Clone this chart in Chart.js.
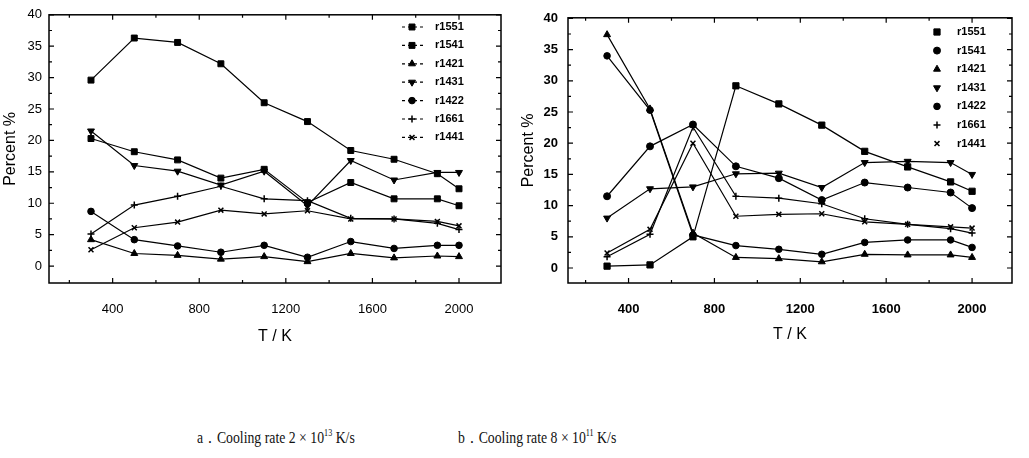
<!DOCTYPE html>
<html>
<head>
<meta charset="utf-8">
<script src="https://cdn.jsdelivr.net/npm/chart.js@4.4.1/dist/chart.umd.min.js"></script>
<style>
  body { margin: 0; background: #fff; width: 1029px; height: 458px; overflow: hidden; position: relative; }
  .box { position: absolute; top: 0; height: 362px; }
  #boxA { left: 0; width: 520px; }
  #boxB { left: 500px; width: 529px; }
  .cap {
    position: absolute; top: 426px; white-space: nowrap; color: #111;
    font-family: "Liberation Serif", "Times New Roman", serif; font-size: 17px;
    transform-origin: left center; transform: scaleX(0.81);
  }
  .cap sup { font-size: 10px; }
</style>
</head>
<body>
<div class="box" id="boxA"><canvas id="chartA"></canvas></div>
<div class="box" id="boxB"><canvas id="chartB"></canvas></div>
<div class="cap" style="left:197px">a．Cooling rate 2 × 10<sup>13</sup> K/s</div>
<div class="cap" style="left:458px">b．Cooling rate 8 × 10<sup>11</sup> K/s</div>

<script>
// temperatures (K) shared by both panels
const temps = [300, 500, 700, 900, 1100, 1300, 1500, 1700, 1900, 2000];
const seriesNames = ['r1551', 'r1541', 'r1421', 'r1431', 'r1422', 'r1661', 'r1441'];

// panel a: cooling rate 2e13 K/s
const a_r1551 = [29.6, 36.3, 35.6, 32.2, 26.0, 23.0, 18.4, 17.0, 14.7, 12.3];
const a_r1541 = [20.3, 18.2, 16.9, 14.0, 15.4, 10.1, 13.3, 10.7, 10.7, 9.6];
const a_r1421 = [4.2, 2.0, 1.7, 1.1, 1.5, 0.7, 2.0, 1.3, 1.6, 1.5];
const a_r1431 = [21.5, 16.0, 15.1, 12.9, 15.1, 9.6, 16.8, 13.7, 14.9, 14.9];
const a_r1422 = [8.7, 4.2, 3.2, 2.2, 3.3, 1.4, 3.9, 2.8, 3.3, 3.3];
const a_r1661 = [5.1, 9.7, 11.1, 12.7, 10.7, 10.4, 7.6, 7.5, 6.8, 5.8];
const a_r1441 = [2.6, 6.1, 7.0, 8.9, 8.3, 8.8, 7.5, 7.5, 7.1, 6.4];

// panel b: cooling rate 8e11 K/s
const b_r1551 = [0.3, 0.5, 5.0, 29.2, 26.3, 22.9, 18.7, 16.2, 13.8, 12.3];
const b_r1541 = [11.5, 19.5, 23.0, 16.3, 14.4, 10.9, 13.7, 12.9, 12.1, 9.6];
const b_r1421 = [37.4, 25.5, 5.6, 1.7, 1.5, 1.0, 2.2, 2.1, 2.1, 1.7];
const b_r1431 = [8.0, 12.7, 13.0, 15.1, 15.2, 12.9, 16.9, 17.1, 16.9, 15.0];
const b_r1422 = [34.0, 25.3, 5.3, 3.6, 3.0, 2.2, 4.1, 4.5, 4.5, 3.3];
const b_r1661 = [1.8, 5.4, 22.6, 11.5, 11.2, 10.3, 7.9, 7.0, 6.3, 5.6];
const b_r1441 = [2.4, 6.2, 20.0, 8.3, 8.6, 8.7, 7.4, 7.0, 6.6, 6.4];

const xTickValues = [200, 400, 600, 800, 1000, 1200, 1400, 1600, 1800, 2000];
const yTickValues = [0, 2.5, 5, 7.5, 10, 12.5, 15, 17.5, 20, 22.5, 25, 27.5, 30, 32.5, 35, 37.5, 40];

const SANS = '"Liberation Sans", Arial, sans-serif';

// marker look per series
const MARKS_A = [
  {style: 'rect', r: 4.2},
  {style: 'rect', r: 4.2},
  {style: 'triangle', r: 4},
  {style: 'triangle', r: 4, rot: 180},
  {style: 'circle', r: 3.3},
  {style: 'cross', r: 3.5},
  {style: 'crossRot', r: 3.5}
];
const MARKS_B = [
  {style: 'rect', r: 4.4},
  {style: 'circle', r: 3.5},
  {style: 'triangle', r: 4},
  {style: 'triangle', r: 4, rot: 180},
  {style: 'circle', r: 3.3},
  {style: 'cross', r: 3.5},
  {style: 'crossRot', r: 3.5}
];

// outer frame plus inward tick marks on all four sides
const frameTicks = {
  id: 'frameTicks',
  afterDatasetsDraw(chart) {
    const {ctx, chartArea: a, scales: {x, y}} = chart;
    ctx.save();
    ctx.strokeStyle = '#000';
    ctx.lineWidth = 1.5;
    ctx.strokeRect(a.left, a.top, a.right - a.left, a.bottom - a.top);
    ctx.lineWidth = 1.2;
    ctx.beginPath();
    x.ticks.forEach(t => {
      const px = x.getPixelForValue(t.value);
      const len = t.value % 400 === 0 ? 5 : 3;
      ctx.moveTo(px, a.bottom); ctx.lineTo(px, a.bottom - len);
      ctx.moveTo(px, a.top); ctx.lineTo(px, a.top + len);
    });
    y.ticks.forEach(t => {
      const py = y.getPixelForValue(t.value);
      const len = t.value % 5 === 0 ? 5 : 3;
      ctx.moveTo(a.left, py); ctx.lineTo(a.left + len, py);
      ctx.moveTo(a.right, py); ctx.lineTo(a.right - len, py);
    });
    ctx.stroke();
    ctx.restore();
  }
};

// legend drawn inside the plot box, top right
const boxLegend = {
  id: 'boxLegend',
  afterDraw(chart, args, opts) {
    const ctx = chart.ctx;
    ctx.save();
    ctx.font = opts.font;
    ctx.fillStyle = '#000';
    ctx.strokeStyle = '#000';
    ctx.textBaseline = 'middle';
    chart.data.datasets.forEach((ds, i) => {
      const cy = opts.top + i * opts.gap;
      if (opts.dash) {
        ctx.lineWidth = 1.2;
        ctx.setLineDash([3, 3]);
        ctx.beginPath();
        ctx.moveTo(opts.markX - 10, cy);
        ctx.lineTo(opts.markX + 12, cy);
        ctx.stroke();
        ctx.setLineDash([]);
      }
      ctx.lineWidth = ds.pointBorderWidth;
      Chart.helpers.drawPoint(ctx, {
        pointStyle: ds.pointStyle,
        radius: ds.pointRadius,
        rotation: ds.pointRotation,
        borderWidth: ds.pointBorderWidth
      }, opts.markX, cy);
      ctx.fillText(ds.label, opts.textX, cy);
    });
    ctx.restore();
  }
};

function buildDatasets(seriesList, marks) {
  return seriesList.map((vals, i) => ({
    label: seriesNames[i],
    data: temps.map((t, j) => ({x: t, y: vals[j]})),
    borderColor: '#000',
    backgroundColor: '#000',
    borderWidth: 1.2,
    pointStyle: marks[i].style,
    pointRadius: marks[i].r,
    pointRotation: marks[i].rot || 0,
    pointBackgroundColor: '#000',
    pointBorderColor: '#000',
    pointBorderWidth: marks[i].style.startsWith('cross') ? 1.5 : 1,
    tension: 0
  }));
}

function makeChart(id, datasets, g) {
  return new Chart(document.getElementById(id), {
    type: 'line',
    data: { datasets },
    options: {
      responsive: true,
      maintainAspectRatio: false,
      animation: false,
      layout: { padding: { top: g.top, right: g.right, left: 0, bottom: 0 } },
      scales: {
        x: {
          type: 'linear',
          min: g.xMin,
          max: g.xMax,
          afterBuildTicks: s => { s.ticks = xTickValues.filter(v => v >= s.min && v <= s.max).map(v => ({value: v})); },
          afterFit: s => { s.height = g.xAxisH; },
          ticks: {
            autoSkip: false, maxRotation: 0, padding: g.xPad, color: '#000',
            font: { family: SANS, size: 13, weight: g.bold ? 'bold' : 'normal' },
            callback: v => (v % 400 === 0 ? String(v) : '')
          },
          grid: { display: false, drawTicks: false },
          border: { display: false },
          title: {
            display: true, text: 'T / K', color: '#000',
            font: { family: SANS, size: 16 },
            padding: { top: 0, bottom: g.titlePadB }
          }
        },
        y: {
          type: 'linear',
          min: g.yMin,
          max: g.yMax,
          afterBuildTicks: s => { s.ticks = yTickValues.map(v => ({value: v})); },
          afterFit: s => { s.width = g.yAxisW; },
          ticks: {
            autoSkip: false, padding: g.yPad, color: '#000',
            font: { family: SANS, size: 13, weight: g.bold ? 'bold' : 'normal' },
            callback: v => (v % 5 === 0 ? String(v) : '')
          },
          grid: { display: false, drawTicks: false },
          border: { display: false },
          title: {
            display: true, text: 'Percent %', color: '#000',
            font: { family: SANS, size: 16 },
            padding: { top: g.yTitlePad, bottom: 0 }
          }
        }
      },
      plugins: {
        legend: { display: false },
        tooltip: { enabled: false },
        boxLegend: g.legend
      }
    },
    plugins: [frameTicks, boxLegend]
  });
}

makeChart('chartA',
  buildDatasets([a_r1551, a_r1541, a_r1421, a_r1431, a_r1422, a_r1661, a_r1441], MARKS_A),
  {
    top: 11, right: 19, xMin: 106, xMax: 2194, yMin: -2.7, yMax: 40,
    xAxisH: 79, xPad: 19, titlePadB: 16, yAxisW: 49, yPad: 7, yTitlePad: 1, bold: false,
    legend: { markX: 412, textX: 435, top: 27, gap: 18.4, dash: true, font: 'bold 11px ' + SANS }
  });

makeChart('chartB',
  buildDatasets([b_r1551, b_r1541, b_r1421, b_r1431, b_r1422, b_r1661, b_r1441], MARKS_B),
  {
    top: 15, right: 17, xMin: 118, xMax: 2186, yMin: -2.4, yMax: 40.1,
    xAxisH: 79, xPad: 19, titlePadB: 18, yAxisW: 68, yPad: 10, yTitlePad: 19, bold: true,
    legend: { markX: 437, textX: 457, top: 32, gap: 18.6, dash: false, font: 'bold 11px ' + SANS }
  });
</script>
</body>
</html>
